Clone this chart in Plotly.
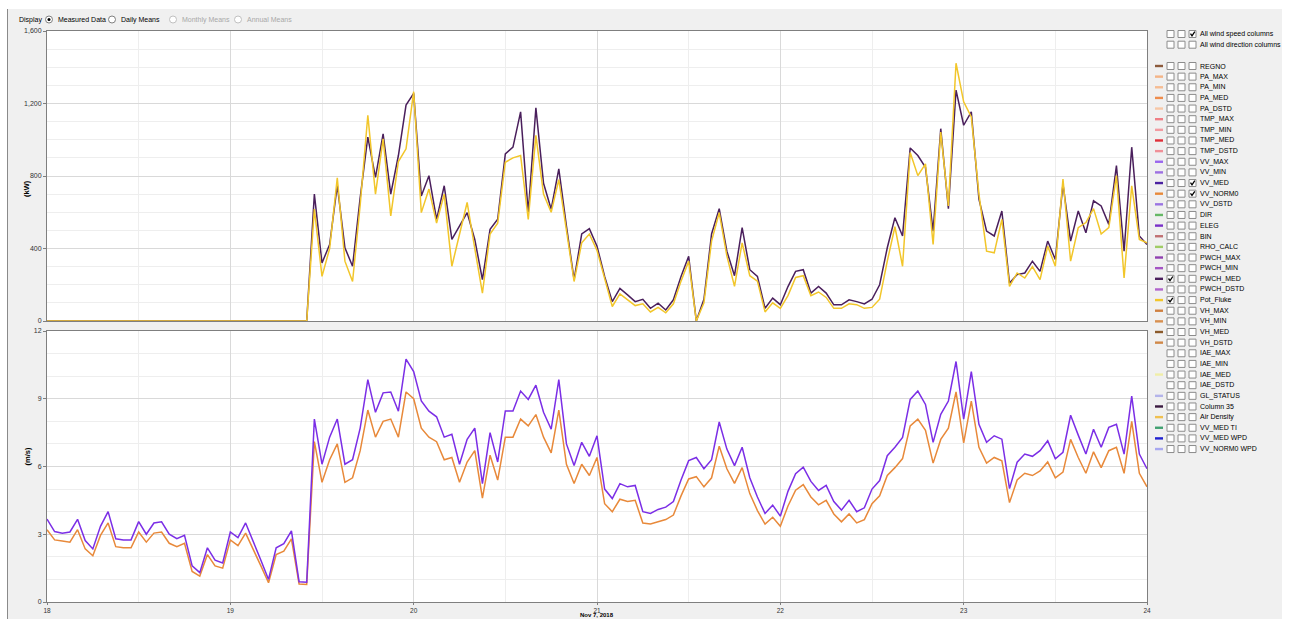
import plotly.graph_objects as go
import pandas as pd

W, H = 1289, 619

# ---------------- data (hourly, 18 Nov 00:00 -> 24 Nov 00:00) ----------------
TIMES = pd.date_range("2018-11-18 00:00", periods=145, freq="h")

PWCH_MED = [
    0, 0, 0, 0, 0, 0, 0, 0, 0, 0,
    0, 0, 0, 0, 0, 0, 0, 0, 0, 0,
    0, 0, 0, 0, 0, 0, 0, 0, 0, 0,
    0, 0, 0, 0, 0,
    700, 320, 422, 750, 404, 302, 681, 1015, 793, 1033,
    700, 913, 1191, 1256, 690, 802, 561, 746, 450, 524,
    598, 450, 228, 506, 561, 922, 959, 1154, 598, 1176,
    760, 617, 839, 524, 228, 480, 509, 413, 246, 107,
    180, 144, 107, 120, 70, 98, 61, 117, 246, 357,
    0, 120, 480, 620, 385, 250, 515, 283, 246, 70,
    126, 90, 190, 274, 283, 154, 191, 154, 89, 89,
    117, 107, 94, 120, 200, 404, 570, 469, 955, 913,
    848, 496, 1061, 620, 1274, 1080, 1154, 672, 496, 469,
    607, 209, 256, 265, 330, 274, 441, 339, 756, 441,
    607, 487, 663, 635, 533, 857, 385, 959, 469, 422,
]

POT_FLUKE = [
    0, 0, 0, 0, 0, 0, 0, 0, 0, 0,
    0, 0, 0, 0, 0, 0, 0, 0, 0, 0,
    0, 0, 0, 0, 0, 0, 0, 0, 0, 0,
    0, 0, 0, 0, 0,
    617, 246, 400, 790, 330, 218, 640, 1135, 700, 1005,
    580, 880, 950, 1265, 598, 728, 540, 700, 302, 480,
    654, 400, 154, 480, 540, 876, 900, 913, 560, 1024,
    700, 600, 780, 500, 218, 431, 480, 390, 228, 80,
    150, 120, 85, 95, 50, 75, 45, 95, 220, 330,
    0, 100, 441, 598, 359, 191, 431, 250, 220, 50,
    100, 70, 140, 240, 250, 140, 160, 130, 70, 70,
    95, 90, 70, 75, 120, 330, 520, 302, 930, 802,
    867, 422, 1043, 635, 1422, 1209, 1126, 700, 385, 376,
    561, 191, 265, 237, 300, 228, 413, 302, 783, 330,
    515, 543, 620, 480, 515, 802, 237, 746, 450, 431,
]

VV_MED = [
    3.67, 3.12, 3.05, 3.1, 3.66, 2.72, 2.35, 3.35, 4.0, 2.8,
    2.75, 2.75, 3.56, 3.0, 3.5, 3.55, 3.0, 2.8, 2.95, 1.6,
    1.3, 2.4, 1.85, 1.73, 3.1, 2.85, 3.5, 2.7, 1.85, 1.0,
    2.4, 2.58, 3.15, 0.9, 0.88, 8.1, 6.1, 7.3, 8.1, 6.1,
    6.3, 7.7, 9.85, 8.4, 9.26, 9.3, 8.45, 10.75, 10.2, 8.9,
    8.45, 8.2, 7.3, 7.43, 6.1, 7.2, 7.7, 5.24, 7.5, 6.2,
    8.46, 8.46, 9.34, 8.97, 9.6, 8.4, 7.65, 9.85, 7.0, 6.04,
    7.07, 6.45, 7.36, 5.0, 4.58, 5.24, 5.1, 5.16, 4.0, 3.92,
    4.1, 4.2, 4.45, 5.4, 6.26, 6.4, 5.9, 6.3, 7.97, 6.77,
    6.04, 6.85, 5.5, 4.65, 3.92, 4.29, 3.8, 4.9, 5.68, 5.97,
    5.34, 4.94, 5.16, 4.45, 4.07, 4.5, 4.0, 4.17, 5.0, 5.38,
    6.48, 6.85, 7.29, 8.97, 9.34, 8.75, 7.07, 8.31, 8.9, 10.65,
    8.1, 10.2, 7.87, 7.07, 7.36, 7.21, 5.02, 6.19, 6.55, 6.45,
    6.7, 7.14, 6.34, 6.63, 8.27, 7.39, 6.55, 7.65, 6.85, 7.73,
    7.87, 6.55, 9.12, 6.55, 5.9,
]

VV_NORM0 = [
    3.2, 2.75, 2.7, 2.65, 3.2, 2.35, 2.05, 2.95, 3.5, 2.45,
    2.4, 2.4, 3.1, 2.65, 3.05, 3.1, 2.6, 2.45, 2.6, 1.35,
    1.15, 2.1, 1.6, 1.5, 2.75, 2.5, 3.05, 2.35, 1.6, 0.85,
    2.1, 2.25, 2.8, 0.8, 0.78, 7.1, 5.3, 6.3, 7.0, 5.3,
    5.5, 6.7, 8.5, 7.3, 8.0, 8.1, 7.3, 9.3, 9.0, 7.7,
    7.3, 7.1, 6.3, 6.4, 5.3, 6.2, 6.7, 4.6, 6.5, 5.4,
    7.3, 7.3, 8.1, 7.8, 8.3, 7.3, 6.6, 8.5, 6.1, 5.25,
    6.1, 5.6, 6.4, 4.35, 4.0, 4.55, 4.45, 4.5, 3.5, 3.45,
    3.55, 3.65, 3.85, 4.7, 5.45, 5.55, 5.1, 5.5, 6.9, 5.9,
    5.25, 5.95, 4.8, 4.05, 3.45, 3.75, 3.35, 4.25, 4.95, 5.2,
    4.65, 4.3, 4.5, 3.9, 3.55, 3.9, 3.5, 3.65, 4.35, 4.7,
    5.6, 5.95, 6.35, 7.8, 8.1, 7.6, 6.15, 7.2, 7.7, 9.3,
    7.05, 8.9, 6.85, 6.15, 6.4, 6.25, 4.4, 5.4, 5.7, 5.6,
    5.8, 6.2, 5.5, 5.75, 7.2, 6.4, 5.7, 6.65, 5.95, 6.7,
    6.85, 5.7, 8.0, 5.7, 5.1,
]

X_TICK_LABEL = "Nov 7, 2018"
TOP_UNIT = "(kW)"
BOTTOM_UNIT = "(m/s)"

LEGEND_NAMES = [
    "REGNO", "PA_MAX", "PA_MIN", "PA_MED", "PA_DSTD", "TMP_MAX", "TMP_MIN",
    "TMP_MED", "TMP_DSTD", "VV_MAX", "VV_MIN", "VV_MED", "VV_NORM0", "VV_DSTD",
    "DIR", "ELEG", "BIN", "RHO_CALC", "PWCH_MAX", "PWCH_MIN", "PWCH_MED",
    "PWCH_DSTD", "Pot_Fluke", "VH_MAX", "VH_MIN", "VH_MED", "VH_DSTD",
    "IAE_MAX", "IAE_MIN", "IAE_MED", "IAE_DSTD", "GL_STATUS", "Column 35",
    "Air Density", "VV_MED TI", "VV_MED WPD", "VV_NORM0 WPD",
]
LEGEND_COLORS = [
    "#8b5a3c", "#f4b487", "#f6bc92", "#ee8c4c", "#f7c7a6", "#ef7f86", "#f29aa0",
    "#e0303a", "#f09098", "#9a66ee", "#9d70e2", "#4a20a0", "#e8893a", "#9a74e2",
    "#66b866", "#7a30c8", "#c07072", "#a0cc66", "#9040b0", "#a454c4", "#4a1f5c",
    "#b064cc", "#f2c62a", "#d08040", "#d89050", "#8b5a2b", "#d08848",
    None, None, "#f0eea8", None, "#b4b4ea", "#3a1a40",
    "#f0c050", "#40a070", "#2020d0", "#a8a8f0",
]
# which of the three boxes is ticked for each row (None = nothing)
LEGEND_CHECKED = {"VV_MED": 2, "VV_NORM0": 2, "PWCH_MED": 0, "Pot_Fluke": 0}
HEADER_ROWS = ["All wind speed columns", "All wind direction columns"]
HEADER_CHECKED = [2, None]

# ---------------- helpers ----------------
def fx(x):
    return x / W


def fy(y):
    return 1 - y / H


FONT = "Liberation Sans, Arial, sans-serif"
UI = 7

fig = go.Figure()

fig.add_trace(go.Scatter(x=TIMES, y=PWCH_MED, mode="lines", name="PWCH_MED",
                         line=dict(color="#4a1f5c", width=1.5), xaxis="x", yaxis="y"))
fig.add_trace(go.Scatter(x=TIMES, y=POT_FLUKE, mode="lines", name="Pot_Fluke",
                         line=dict(color="#f2c62a", width=1.5), xaxis="x", yaxis="y"))
fig.add_trace(go.Scatter(x=TIMES, y=VV_NORM0, mode="lines", name="VV_NORM0",
                         line=dict(color="#e8893a", width=1.5), xaxis="x2", yaxis="y2"))
fig.add_trace(go.Scatter(x=TIMES, y=VV_MED, mode="lines", name="VV_MED",
                         line=dict(color="#7b2ee6", width=1.5), xaxis="x2", yaxis="y2"))

GRID = "#d9d9d9"
MINOR = "#eeeeee"
AX = "#7f7f7f"
xr = ["2018-11-18 00:00", "2018-11-24 00:00"]
common_x = dict(type="date", range=xr, tick0="2018-11-18", dtick=86400000,
                showgrid=True, gridcolor=GRID, gridwidth=1,
                minor=dict(dtick=43200000, showgrid=True, gridcolor=MINOR, ticks=""),
                showline=True, mirror=True, linecolor=AX, linewidth=1,
                zeroline=False, automargin=False, fixedrange=True)
fig.update_layout(
    xaxis=dict(domain=[fx(47), fx(1147)], anchor="y", showticklabels=False,
               ticks="", **common_x),
    xaxis2=dict(domain=[fx(47), fx(1147)], anchor="y2", showticklabels=True,
                tickformat="%d", ticks="outside", ticklen=2, tickcolor=AX,
                tickfont=dict(size=6.5, color="#333333", family=FONT), **common_x),
    yaxis=dict(domain=[fy(321), fy(31)], anchor="x", range=[0, 1600], dtick=400,
               tickformat=",d", ticks="outside", ticklen=3, tickcolor=AX,
               tickfont=dict(size=7, color="#333333", family=FONT),
               showgrid=True, gridcolor=GRID,
               minor=dict(dtick=100, showgrid=True, gridcolor=MINOR, ticks=""),
               showline=True, mirror=True, linecolor=AX, zeroline=False,
               automargin=False, fixedrange=True),
    yaxis2=dict(domain=[fy(602), fy(331)], anchor="x2", range=[0, 12], dtick=3,
                ticks="outside", ticklen=3, tickcolor=AX,
                tickfont=dict(size=7, color="#333333", family=FONT),
                showgrid=True, gridcolor=GRID,
                minor=dict(dtick=1, showgrid=True, gridcolor=MINOR, ticks=""),
                showline=True, mirror=True, linecolor=AX, zeroline=False,
                automargin=False, fixedrange=True),
    width=W, height=H, margin=dict(l=0, r=0, t=0, b=0),
    paper_bgcolor="#f0f0f0", plot_bgcolor="#ffffff",
    showlegend=False, font=dict(family=FONT, size=8, color="#000000"),
)

shapes = []
ann = []

# window frame: white strips around the grey panel and a dark left border
shapes.append(dict(type="rect", xref="paper", yref="paper", x0=0, x1=1, y0=fy(9), y1=1,
                   fillcolor="#ffffff", line=dict(width=0), layer="below"))
shapes.append(dict(type="rect", xref="paper", yref="paper", x0=0, x1=fx(7), y0=0, y1=1,
                   fillcolor="#ffffff", line=dict(width=0), layer="below"))
shapes.append(dict(type="rect", xref="paper", yref="paper", x0=fx(1282), x1=1, y0=0, y1=1,
                   fillcolor="#ffffff", line=dict(width=0), layer="below"))
shapes.append(dict(type="line", xref="paper", yref="paper", x0=fx(7.5), x1=fx(7.5),
                   y0=0, y1=fy(9), line=dict(color="#8a8a8a", width=1)))

# top radio bar
ann.append(dict(text="Display", x=fx(17), y=fy(19.5), xref="paper", yref="paper",
                xanchor="left", yanchor="middle", showarrow=False,
                font=dict(size=UI, color="#000000", family=FONT)))
RADIOS = [(49, "Measured Data", True, True), (112, "Daily Means", False, True),
          (173, "Monthly Means", False, False), (238, "Annual Means", False, False)]
for cx, label, sel, enabled in RADIOS:
    col = "#808080" if enabled else "#c0c0c0"
    shapes.append(dict(type="circle", xref="paper", yref="paper",
                       x0=fx(cx - 3.5), x1=fx(cx + 3.5), y0=fy(19.5 + 3.5), y1=fy(19.5 - 3.5),
                       fillcolor="#ffffff", line=dict(color=col, width=1)))
    if sel:
        shapes.append(dict(type="circle", xref="paper", yref="paper",
                           x0=fx(cx - 1.5), x1=fx(cx + 1.5), y0=fy(19.5 + 1.5), y1=fy(19.5 - 1.5),
                           fillcolor="#000000", line=dict(color="#000000", width=0)))
    ann.append(dict(text=label, x=fx(cx + 6.5), y=fy(19.5), xref="paper", yref="paper",
                    xanchor="left", yanchor="middle", showarrow=False,
                    font=dict(size=UI, color="#000000" if enabled else "#a8a8a8", family=FONT)))

# axis unit labels
ann.append(dict(text="<b>%s</b>" % TOP_UNIT, x=fx(20), y=fy(178), xref="paper", yref="paper",
                textangle=-90, showarrow=False, font=dict(size=7.5, color="#000000", family=FONT)))
ann.append(dict(text="<b>%s</b>" % BOTTOM_UNIT, x=fx(20), y=fy(468), xref="paper", yref="paper",
                textangle=-90, showarrow=False, font=dict(size=7.5, color="#000000", family=FONT)))
ann.append(dict(text="<b>%s</b>" % X_TICK_LABEL, x=fx(597), y=0, xref="paper", yref="paper",
                xanchor="center", yanchor="bottom", showarrow=False, borderpad=0,
                font=dict(size=6, color="#000000", family=FONT)))

# legend panel
BOX_X = [1167, 1178, 1189]


def checkbox_row(yc, checked):
    for k, bx in enumerate(BOX_X):
        shapes.append(dict(type="rect", xref="paper", yref="paper",
                           x0=fx(bx), x1=fx(bx + 7), y0=fy(yc + 3.5), y1=fy(yc - 3.5),
                           fillcolor="#ffffff", line=dict(color="#8c8c8c", width=1)))
        if checked == k:
            path = "M %f,%f L %f,%f L %f,%f" % (
                fx(bx + 1.5), fy(yc - 0.3), fx(bx + 3), fy(yc + 1.8), fx(bx + 5.8), fy(yc - 2.3))
            shapes.append(dict(type="path", xref="paper", yref="paper", path=path,
                               line=dict(color="#000000", width=1.3)))


for i, (label, chk) in enumerate(zip(HEADER_ROWS, HEADER_CHECKED)):
    yc = 34 + 10.7 * i
    checkbox_row(yc, chk)
    ann.append(dict(text=label, x=fx(1198), y=fy(yc), xref="paper", yref="paper",
                    xanchor="left", yanchor="middle", showarrow=False,
                    font=dict(size=UI, color="#000000", family=FONT)))

for i, (label, col) in enumerate(zip(LEGEND_NAMES, LEGEND_COLORS)):
    yc = 66 + 10.64 * i
    if col is not None:
        shapes.append(dict(type="line", xref="paper", yref="paper",
                           x0=fx(1155), x1=fx(1163), y0=fy(yc), y1=fy(yc),
                           line=dict(color=col, width=2.4)))
    checkbox_row(yc, LEGEND_CHECKED.get(label))
    ann.append(dict(text=label, x=fx(1198), y=fy(yc), xref="paper", yref="paper",
                    xanchor="left", yanchor="middle", showarrow=False,
                    font=dict(size=UI, color="#000000", family=FONT)))

fig.update_layout(shapes=shapes, annotations=ann)
fig.write_html("out.html")
